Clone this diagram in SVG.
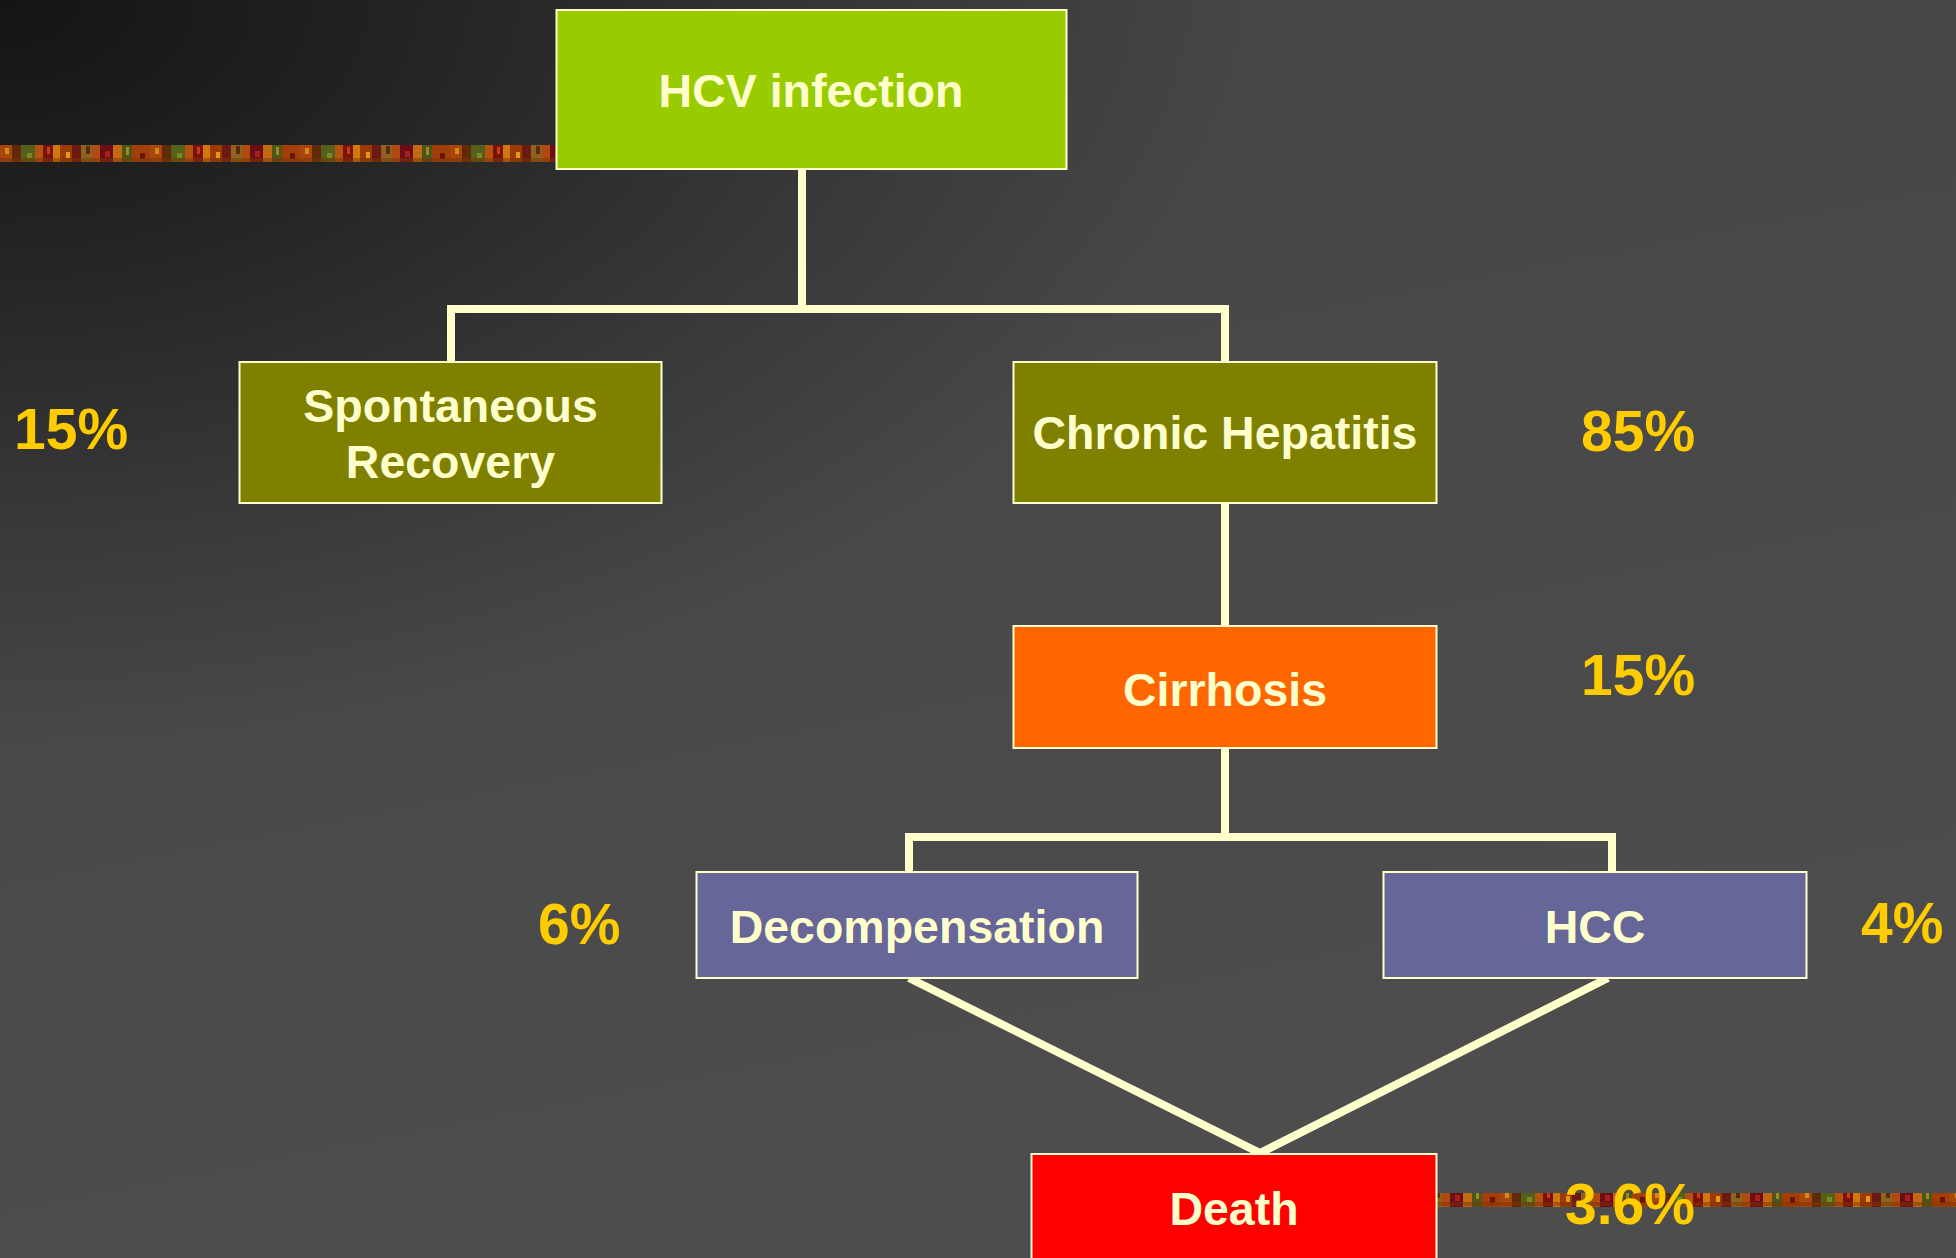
<svg xmlns="http://www.w3.org/2000/svg" width="1956" height="1258" viewBox="0 0 1956 1258">
  <defs>
    <linearGradient id="bg" x1="0" y1="0" x2="0.3" y2="1">
      <stop offset="0" stop-color="#444444"/>
      <stop offset="1" stop-color="#4d4d4d"/>
    </linearGradient>
    <radialGradient id="corner" cx="0" cy="0" r="1" gradientUnits="userSpaceOnUse" gradientTransform="scale(1250 760)">
      <stop offset="0" stop-color="#141414" stop-opacity="1"/>
      <stop offset="0.3" stop-color="#141414" stop-opacity="0.72"/>
      <stop offset="0.7" stop-color="#141414" stop-opacity="0.28"/>
      <stop offset="1" stop-color="#141414" stop-opacity="0"/>
    </radialGradient>
    <!-- textured band: mottled autumn strip -->
    <pattern id="band" x="0" y="0" width="150" height="18" patternUnits="userSpaceOnUse">
      <rect width="150" height="18" fill="#8e3408"/>
      <rect x="0" y="0" width="12" height="18" fill="#a8460c"/>
      <rect x="12" y="0" width="9" height="18" fill="#5e2a08"/>
      <rect x="21" y="0" width="14" height="18" fill="#55601a"/>
      <rect x="35" y="0" width="8" height="18" fill="#b5520e"/>
      <rect x="43" y="0" width="10" height="18" fill="#7a120c"/>
      <rect x="53" y="0" width="7" height="18" fill="#d0780e"/>
      <rect x="60" y="0" width="12" height="18" fill="#9c3a06"/>
      <rect x="72" y="0" width="9" height="18" fill="#6a1a10"/>
      <rect x="81" y="0" width="11" height="18" fill="#8a6420"/>
      <rect x="92" y="0" width="8" height="18" fill="#b04a10"/>
      <rect x="100" y="0" width="13" height="18" fill="#6c0e16"/>
      <rect x="113" y="0" width="9" height="18" fill="#c06a14"/>
      <rect x="122" y="0" width="10" height="18" fill="#4f5418"/>
      <rect x="132" y="0" width="18" height="18" fill="#a13e0a"/>
      <rect x="5" y="4" width="4" height="6" fill="#d08a20"/>
      <rect x="27" y="9" width="5" height="5" fill="#7a8a22"/>
      <rect x="47" y="3" width="3" height="7" fill="#c83c10"/>
      <rect x="66" y="8" width="4" height="6" fill="#e09a18"/>
      <rect x="86" y="2" width="4" height="8" fill="#5a2a10"/>
      <rect x="105" y="7" width="5" height="6" fill="#a8201c"/>
      <rect x="126" y="3" width="3" height="8" fill="#9a8a26"/>
      <rect x="140" y="9" width="5" height="6" fill="#6a140c"/>
      <rect x="0" y="14" width="150" height="4" fill="#7a3406" opacity="0.5"/>
    </pattern>
    <style>
      .box { stroke: #ffffcc; stroke-width: 2; }
      .label { font-family: "Liberation Sans", Arial, sans-serif; font-weight: bold; font-size: 46.5px; fill: #ffffcc; text-anchor: middle; }
      .pct { font-family: "Liberation Sans", Arial, sans-serif; font-weight: bold; font-size: 57px; fill: #ffcc00; }
      .wire { fill: none; stroke: #ffffcc; stroke-width: 8; stroke-linejoin: miter; }
    </style>
  </defs>

  <!-- background -->
  <rect width="1956" height="1258" fill="url(#bg)"/>
  <rect width="1956" height="1258" fill="url(#corner)"/>

  <!-- decorative strips -->
  <rect x="0" y="145" width="557" height="17" fill="url(#band)"/>
  <rect x="1436" y="1193" width="520" height="14" fill="url(#band)"/>

  <!-- connectors -->
  <g id="connectors">
    <path class="wire" d="M802,169 V309"/>
    <path class="wire" d="M451,362 V309 H1225 V362"/>
    <path class="wire" d="M1225,503 V626"/>
    <path class="wire" d="M1225,748 V837"/>
    <path class="wire" d="M909,872 V837 H1612 V872"/>
    <path class="wire" d="M909,978 L1260,1153 L1608,978"/>
  </g>

  <g id="hcv-infection">
    <rect class="box" x="556.5" y="10" width="510" height="159" fill="#99cc00"/>
    <text class="label" x="811" y="107">HCV infection</text>
  </g>

  <g id="spontaneous-recovery">
    <rect class="box" x="239.5" y="362" width="422" height="141" fill="#808000"/>
    <text class="label" x="450.5" y="422">Spontaneous</text>
    <text class="label" x="450.5" y="478">Recovery</text>
  </g>

  <g id="chronic-hepatitis">
    <rect class="box" x="1013.5" y="362" width="423" height="141" fill="#808000"/>
    <text class="label" x="1225" y="449">Chronic Hepatitis</text>
  </g>

  <g id="cirrhosis">
    <rect class="box" x="1013.5" y="626" width="423" height="122" fill="#ff6600"/>
    <text class="label" x="1225" y="706">Cirrhosis</text>
  </g>

  <g id="decompensation">
    <rect class="box" x="696.5" y="872" width="441" height="106" fill="#666699"/>
    <text class="label" x="917" y="943">Decompensation</text>
  </g>

  <g id="hcc">
    <rect class="box" x="1383.5" y="872" width="423" height="106" fill="#666699"/>
    <text class="label" x="1595" y="943">HCC</text>
  </g>

  <g id="death">
    <rect class="box" x="1031.5" y="1154" width="405" height="120" fill="#ff0000"/>
    <text class="label" x="1234" y="1225">Death</text>
  </g>

  <!-- rates -->
  <g id="rates">
    <text class="pct" x="14" y="449">15%</text>
    <text class="pct" x="1581" y="451">85%</text>
    <text class="pct" x="1581" y="695">15%</text>
    <text class="pct" x="538" y="944">6%</text>
    <text class="pct" x="1861" y="943">4%</text>
    <text class="pct" x="1565" y="1224">3.6%</text>
  </g>
</svg>
